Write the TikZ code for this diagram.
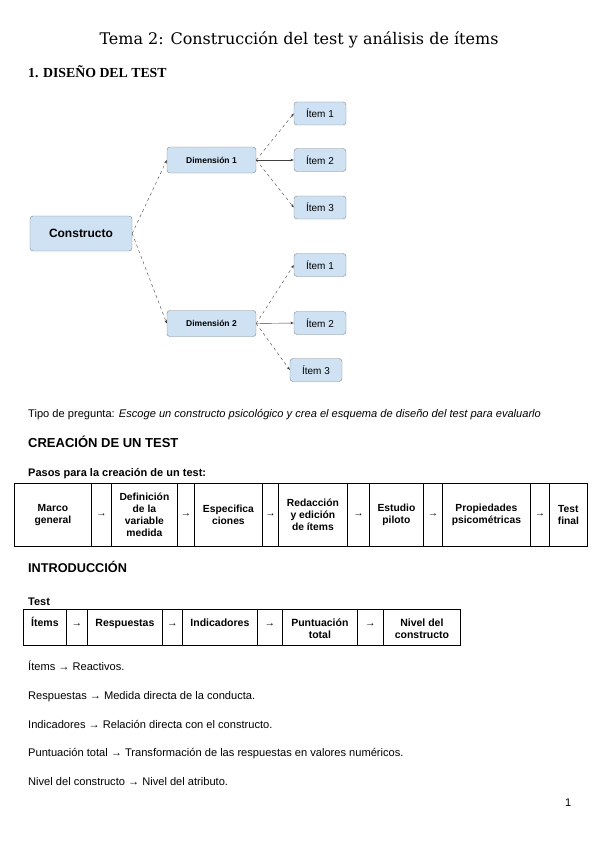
\documentclass[tikz,border=0pt]{standalone}
\usepackage{fontspec}
\setmainfont{Liberation Sans}
\newfontfamily\titlefont{DejaVu Serif}
\newfontfamily\headserif{Liberation Serif}
\usepackage{tikz}
\usetikzlibrary{arrows.meta}

\definecolor{boxblue}{HTML}{CFE2F3}
\definecolor{boxline}{HTML}{7F848A}

\newcommand{\alto}{\rule{0pt}{10pt}}

\tikzset{
  caja/.style={draw=boxline, fill=boxblue, rounded corners=3pt, inner sep=0pt, font=\fontsize{10}{12}\selectfont},
  flecha/.style={->, >={Stealth[length=3.5pt,width=2.6pt]}, draw=black!75, line width=0.4pt},
  texto/.style={anchor=base west, inner sep=0pt, font=\fontsize{11.1}{13}\selectfont},
  celda/.style={draw=black, line width=0.8pt, inner sep=0pt, anchor=north west, align=center},
}

\begin{document}
\begin{tikzpicture}[x=1pt, y=-1pt]
    \useasboundingbox (0,0) rectangle (600,848);

    % Titulos
    \node[anchor=base, inner sep=0pt, font=\titlefont\fontsize{16}{18}\selectfont] (titulo) at (299,45) {Tema 2: Construcción del test y análisis de ítems};
    \node[anchor=base west, inner sep=0pt, font=\headserif\bfseries\fontsize{13.8}{16}\selectfont] (disenio) at (28,77.5) {1. DISEÑO DEL TEST};

    % Esquema del constructo
    \node[caja, font=\fontsize{12}{14}\selectfont\bfseries, minimum width=102pt, minimum height=35pt] (constructo) at (81,233.5) {Constructo};
    \node[caja, font=\fontsize{8.5}{10}\selectfont\bfseries, minimum width=89pt, minimum height=26pt] (dim1) at (211.5,160) {Dimensión 1};
    \node[caja, font=\fontsize{8.5}{10}\selectfont\bfseries, minimum width=89pt, minimum height=26pt] (dim2) at (211.5,323.5) {Dimensión 2};

    \node[caja, minimum width=52pt, minimum height=23pt] (a1) at (320,113.5) {Ítem 1};
    \node[caja, minimum width=52pt, minimum height=23pt] (a2) at (320,160) {Ítem 2};
    \node[caja, minimum width=52pt, minimum height=23pt] (a3) at (320,207.5) {Ítem 3};
    \node[caja, minimum width=52pt, minimum height=23pt] (b1) at (320,265) {Ítem 1};
    \node[caja, minimum width=52pt, minimum height=23pt] (b2) at (320,323) {Ítem 2};
    \node[caja, minimum width=52pt, minimum height=23pt] (b3) at (316,370) {Ítem 3};

    \draw[flecha, dashed] (constructo.east) -- (dim1.west);
    \draw[flecha, dashed] (constructo.east) -- (dim2.west);
    \draw[flecha, dashed] (dim1.east) -- (a1.west);
    \draw[flecha] (dim1.east) -- (a2.west);
    \draw[flecha, dashed] (dim1.east) -- (a3.west);
    \draw[flecha, dashed] (dim2.east) -- (b1.west);
    \draw[flecha] (dim2.east) -- (b2.west);
    \draw[flecha, dashed] (dim2.east) -- (b3.west);

    \node[texto] (tipo) at (28,417) {Tipo de pregunta: \textit{Escoge un constructo psicológico y crea el esquema de diseño del test para evaluarlo}};

    % Creacion de un test
    \node[texto, font=\bfseries\fontsize{13}{15}\selectfont] (creacion) at (28,447.5) {CREACIÓN DE UN TEST};
    \node[texto, font=\bfseries\fontsize{11}{13}\selectfont] (pasos) at (28,476.5) {Pasos para la creación de un test:};

    \foreach \x/\w/\t [count=\i] in {
        14/77/{Marco\\general}, 91/20/{→}, 111/66/{Definición\\de la\\variable\\medida},
        177/17/{→}, 194/68/{Especifica\\ciones}, 262/16/{→},
        278/69/{Redacción\\y edición\\de ítems}, 347/22/{→}, 369/54/{Estudio\\piloto},
        423/19/{→}, 442/88/{Propiedades\\psicométricas}, 530/19/{→}, 549/38/{Test\\final}}
        \node[celda, minimum width=\w pt, minimum height=63pt, font=\bfseries\fontsize{10.3}{12.2}\selectfont] (paso\i) at (\x,483) {\t};

    % Introduccion
    \node[texto, font=\bfseries\fontsize{12.7}{15}\selectfont] (intro) at (28,572) {INTRODUCCIÓN};
    \node[texto, font=\bfseries\fontsize{11}{13}\selectfont] (test) at (28,605) {Test};

    \foreach \x/\w/\t [count=\i] in {
        23/43/{Ítems\\\mbox{}}, 66/21/{→\\\mbox{}}, 87/75/{Respuestas\\\mbox{}}, 162/20/{→\\\mbox{}},
        182/75/{Indicadores\\\mbox{}}, 257/25/{→\\\mbox{}}, 282/75/{Puntuación\\total},
        357/26/{→\\\mbox{}}, 383/77/{Nivel del\\constructo}}
        \node[celda, minimum width=\w pt, minimum height=35.5pt, font=\bfseries\fontsize{10.5}{12}\selectfont] (parte\i) at (\x,609) {\alto\t};

    \node[texto] (def1) at (28,670.5) {Ítems → Reactivos.};
    \node[texto] (def2) at (28,699) {Respuestas → Medida directa de la conducta.};
    \node[texto] (def3) at (28,728) {Indicadores → Relación directa con el constructo.};
    \node[texto] (def4) at (28,756.5) {Puntuación total → Transformación de las respuestas en valores numéricos.};
    \node[texto] (def5) at (28,785) {Nivel del constructo → Nivel del atributo.};

    \node[texto] (pagina) at (565,806) {1};
\end{tikzpicture}
\end{document}
